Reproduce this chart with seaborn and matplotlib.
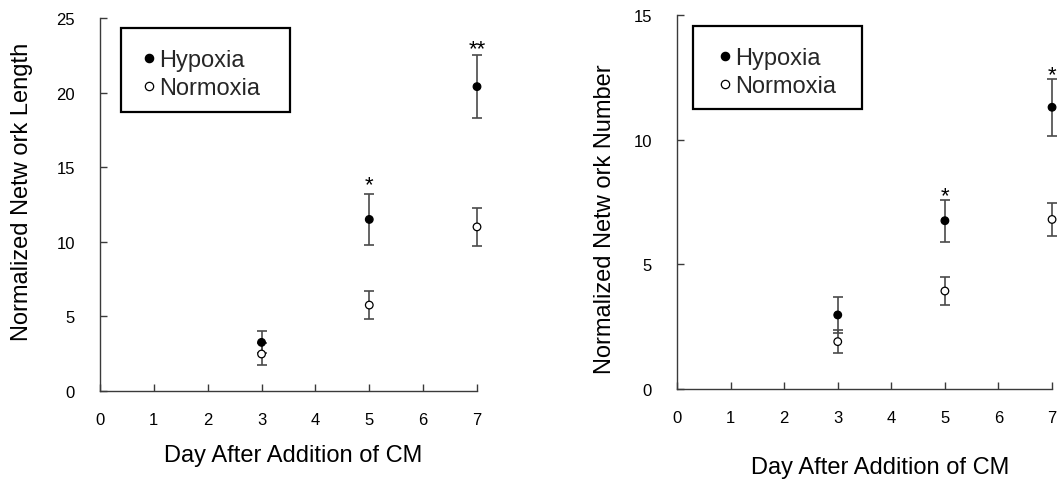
import matplotlib
matplotlib.use("Agg")
import matplotlib.pyplot as plt
from matplotlib.lines import Line2D
from matplotlib.patches import Rectangle
import pandas as pd
import seaborn as sns

# Sampling days after adding conditioned medium
days = [3, 5, 7]

# Network length (mean and error)
length_hypoxia = [3.26, 11.5, 20.4]
length_hypoxia_err = [0.74, 1.7, 2.1]
length_normoxia = [2.48, 5.76, 11.0]
length_normoxia_err = [0.72, 0.92, 1.25]

# Network number (mean and error)
number_hypoxia = [2.97, 6.75, 11.3]
number_hypoxia_err = [0.72, 0.85, 1.14]
number_normoxia = [1.90, 3.93, 6.8]
number_normoxia_err = [0.46, 0.55, 0.65]

# Significance marks: (day, height of mark, text)
length_marks = [(5, 14.05, "*"), (7, 23.2, "**")]
number_marks = [(5, 7.9, "*"), (7, 12.77, "*")]

conditions = ["Hypoxia", "Normoxia"]
x_ticks = [0, 1, 2, 3, 4, 5, 6, 7]
length_yticks = [0, 5, 10, 15, 20, 25]
number_yticks = [0, 5, 10, 15]
x_label = "Day After Addition of CM"
length_label = "Normalized Netw ork Length"
number_label = "Normalized Netw ork Number"

sns.set_style("ticks")
plt.rcParams["font.family"] = ["Liberation Sans", "DejaVu Sans"]

SPINE = "#3a3a3a"
EBAR = "#4a4a4a"


def build_frame(hyp, nor):
    rows = []
    for d, v in zip(days, nor):
        rows.append({"day": d, "value": v, "Condition": "Normoxia"})
    for d, v in zip(days, hyp):
        rows.append({"day": d, "value": v, "Condition": "Hypoxia"})
    return pd.DataFrame(rows)


def draw_panel(ax, hyp, hyp_err, nor, nor_err, ymax, yticks, ylabel, marks,
               xlabel_pos, ylabel_pos, box, legend_anchor):
    for vals, errs in ((hyp, hyp_err), (nor, nor_err)):
        cont = ax.errorbar(days, vals, yerr=errs, fmt="none", ecolor=EBAR,
                           elinewidth=1.2, capsize=3.4, capthick=1.2, zorder=2)
        for child in cont.get_children():
            child.set_clip_on(False)

    df = build_frame(hyp, nor)
    sns.scatterplot(data=df, x="day", y="value", hue="Condition",
                    palette={"Hypoxia": "black", "Normoxia": "white"},
                    edgecolor="black", linewidth=0.9, s=30, legend=False,
                    ax=ax, zorder=3, clip_on=False)

    for d, y, txt in marks:
        ax.annotate(txt, xy=(d, y), xytext=(0, -6.7), textcoords="offset points",
                    ha="center", va="baseline", fontsize=16, color="black")

    ax.set_xlim(0, 7)
    ax.set_ylim(0, ymax)
    ax.set_xticks(x_ticks)
    ax.set_yticks(yticks)
    ax.tick_params(axis="both", direction="in", length=5, width=1.0,
                   color=SPINE, labelsize=12, labelcolor="black")
    ax.tick_params(axis="x", pad=15)
    ax.tick_params(axis="y", pad=18)
    for side in ("top", "right"):
        ax.spines[side].set_visible(False)
    for side in ("left", "bottom"):
        ax.spines[side].set_color(SPINE)
        ax.spines[side].set_linewidth(1.0)

    ax.set_xlabel(x_label, fontsize=17, color="black", va="center")
    ax.xaxis.set_label_coords(*xlabel_pos)
    ax.set_ylabel(ylabel, fontsize=17, color="black", va="center")
    ax.yaxis.set_label_coords(*ylabel_pos)

    ax.add_patch(Rectangle(box[:2], box[2], box[3], transform=ax.transAxes,
                           fill=True, facecolor="white", edgecolor="black",
                           linewidth=1.6, clip_on=False, zorder=4))
    handles = [
        Line2D([], [], ls="", marker="o", markersize=6, markerfacecolor="black",
               markeredgecolor="black", markeredgewidth=0.9),
        Line2D([], [], ls="", marker="o", markersize=6, markerfacecolor="white",
               markeredgecolor="black", markeredgewidth=0.9),
    ]
    leg = ax.legend(handles, conditions, loc="upper left",
                    bbox_to_anchor=legend_anchor, frameon=False, borderpad=0,
                    borderaxespad=0, handlelength=0.5, handletextpad=0.18,
                    labelspacing=0.25, fontsize=17)
    leg.set_zorder(5)


fig = plt.figure(figsize=(10.6, 4.81), dpi=100)
ax1 = fig.add_axes([0.0943, 0.185, 0.3557, 0.7755])
ax2 = fig.add_axes([0.6387, 0.1892, 0.3538, 0.7775])

draw_panel(ax1, length_hypoxia, length_hypoxia_err, length_normoxia,
           length_normoxia_err, 25, length_yticks, length_label, length_marks,
           xlabel_pos=(0.5135, -0.1716), ylabel_pos=(-0.207, 0.537),
           box=(0.0557, 0.749, 0.448, 0.2236), legend_anchor=(0.114, 0.917))
draw_panel(ax2, number_hypoxia, number_hypoxia_err, number_normoxia,
           number_normoxia_err, 15, number_yticks, number_label, number_marks,
           xlabel_pos=(0.5427, -0.2086), ylabel_pos=(-0.192, 0.4556),
           box=(0.0427, 0.7487, 0.4507, 0.2211), legend_anchor=(0.112, 0.914))

fig.savefig("out.png", dpi=100, facecolor="white")
